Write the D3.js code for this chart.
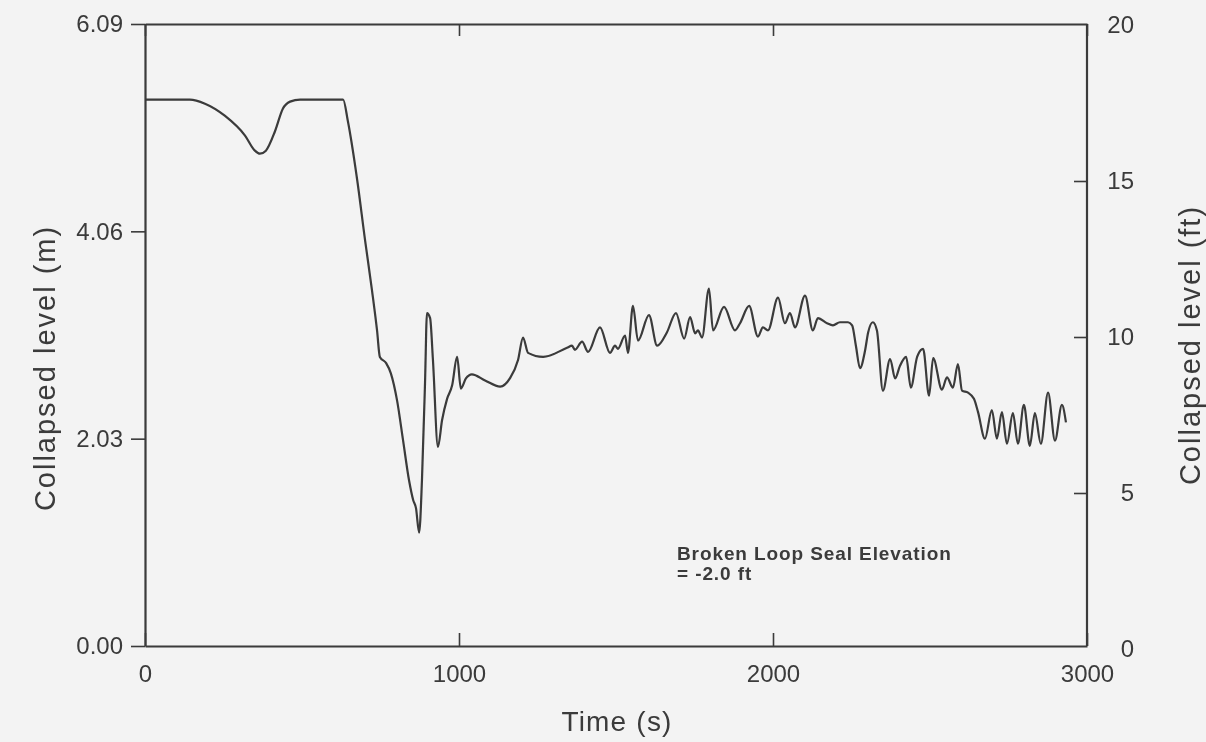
<!DOCTYPE html>
<html>
<head>
<meta charset="utf-8">
<script src="https://cdn.jsdelivr.net/npm/d3@7"></script>
<style>
  html, body { margin: 0; padding: 0; background: #f3f3f3; }
  svg { display: block; }
  text { font-family: "Liberation Sans", Arial, Helvetica, sans-serif; fill: #3a3a3a; }
</style>
</head>
<body>
<svg id="chart" width="1206" height="742"></svg>
<script>
// Time (s) and collapsed level (m) of the broken-loop seal
const timeS = [
  0, 143, 191, 255, 318, 350, 366, 385, 414, 439, 462, 494, 631,
  646, 675, 701, 723, 739, 748, 768, 783, 803, 822, 841, 854, 863, 873,
  882, 892, 898, 908, 917, 933, 946, 962, 978, 994, 1006, 1022, 1041, 1083,
  1131, 1162, 1188, 1204, 1220, 1268, 1344, 1360, 1369, 1392, 1411, 1449,
  1481, 1497, 1506, 1529, 1538, 1554, 1570, 1605, 1631, 1662, 1691, 1717,
  1736, 1752, 1761, 1774, 1796, 1809, 1844, 1879, 1895, 1924, 1952, 1968,
  1984, 2016, 2038, 2054, 2070, 2102, 2127, 2143, 2172, 2191, 2213, 2239,
  2252, 2264, 2277, 2293, 2303, 2318, 2331, 2350, 2373, 2389, 2404, 2424,
  2439, 2459, 2478, 2497, 2510, 2538, 2554, 2573, 2589, 2602, 2621, 2640,
  2653, 2675, 2697, 2713, 2729, 2745, 2764, 2780, 2799, 2818, 2834, 2853,
  2876, 2898, 2920, 2933
];
const levelM = [
  5.35, 5.35, 5.31, 5.19, 5.00, 4.85, 4.82, 4.85, 5.04, 5.26, 5.33, 5.35, 5.35,
  5.14, 4.58, 3.97, 3.48, 3.09, 2.83, 2.77, 2.67, 2.40, 2.01, 1.62, 1.43, 1.35, 1.11,
  1.62, 2.60, 3.26, 3.21, 2.80, 1.95, 2.21, 2.42, 2.55, 2.83, 2.52, 2.62, 2.66, 2.60,
  2.54, 2.62, 2.80, 3.02, 2.87, 2.83, 2.92, 2.94, 2.90, 2.98, 2.88, 3.12,
  2.87, 2.94, 2.91, 3.04, 2.87, 3.33, 2.99, 3.24, 2.94, 3.07, 3.26, 3.01,
  3.22, 3.06, 3.09, 3.02, 3.50, 3.09, 3.32, 3.09, 3.16, 3.33, 3.03, 3.12,
  3.09, 3.41, 3.16, 3.26, 3.12, 3.43, 3.09, 3.21, 3.16, 3.14, 3.17, 3.17,
  3.14, 2.94, 2.72, 2.89, 3.07, 3.17, 3.09, 2.50, 2.81, 2.62, 2.74, 2.83,
  2.53, 2.83, 2.91, 2.45, 2.82, 2.51, 2.63, 2.53, 2.76, 2.50, 2.48, 2.42,
  2.29, 2.03, 2.31, 2.03, 2.29, 1.98, 2.28, 1.98, 2.36, 1.96, 2.28, 1.98,
  2.48, 2.01, 2.36, 2.19
];

// Tick values for the three axes
const timeTicks = [0, 1000, 2000, 3000];
const meterTicks = [0, 2.03, 4.06, 6.09];
const feetTicks = [0, 5, 10, 15, 20];

// Annotation text
const noteLines = ["Broken Loop Seal Elevation", "= -2.0 ft"];

const svg = d3.select("#chart");
const plotL = 145, plotR = 1087, plotT = 24, plotB = 646;
const ink = "#3a3a3a";

const x = d3.scaleLinear().domain([0, 3000]).range([plotL, plotR]);
const yM = d3.scaleLinear().domain([0, 6.09]).range([plotB, plotT]);
const yFt = d3.scaleLinear().domain([0, 20]).range([plotB + 3, plotT + 1]);

const soft = svg.append("defs").append("filter").attr("id", "soft");
soft.append("feGaussianBlur").attr("stdDeviation", 0.55);

const g = svg.append("g").attr("filter", "url(#soft)");

function styleAxis(sel) {
  sel.selectAll("path.domain").attr("stroke", ink).attr("stroke-width", 2.2);
  sel.selectAll(".tick line").attr("stroke", ink).attr("stroke-width", 1.6);
  sel.selectAll(".tick text")
    .style("font-size", "24px")
    .style("fill", ink)
    .style("font-family", "'Liberation Sans', Arial, sans-serif");
}

// Left axis in metres, ticks pointing out
const axL = g.append("g").attr("transform", `translate(${plotL},0)`)
  .call(d3.axisLeft(yM).tickValues(meterTicks).tickFormat(d3.format(".2f"))
    .tickSizeInner(14).tickSizeOuter(0).tickPadding(8));
styleAxis(axL);

// Right axis in feet, ticks pointing in
const axR = g.append("g").attr("transform", `translate(${plotR},0)`)
  .call(d3.axisRight(yFt).tickValues(feetTicks).tickFormat(d3.format("d"))
    .tickSizeInner(-13).tickSizeOuter(0).tickPadding(47));
styleAxis(axR);
axR.selectAll(".tick text").attr("text-anchor", "end");
axR.selectAll(".tick").filter(d => d === 0 || d === 20).select("line").remove();
axR.select("path.domain").attr("d", `M0,${plotT}V${plotB}`);

// Bottom time axis, ticks pointing in
const axB = g.append("g").attr("transform", `translate(0,${plotB})`)
  .call(d3.axisBottom(x).tickValues(timeTicks).tickFormat(d3.format("d"))
    .tickSizeInner(-13).tickSizeOuter(0).tickPadding(28));
styleAxis(axB);
axB.selectAll(".tick text").attr("dy", "0.32em");

// Top frame with inward ticks
const axT = g.append("g").attr("transform", `translate(0,${plotT})`)
  .call(d3.axisTop(x).tickValues(timeTicks).tickFormat("")
    .tickSizeInner(-12).tickSizeOuter(0));
styleAxis(axT);

// Level history
const line = d3.line()
  .x((d, i) => x(timeS[i]))
  .y(d => yM(d))
  .curve(d3.curveMonotoneX);

g.append("path")
  .datum(levelM)
  .attr("d", line)
  .attr("fill", "none")
  .attr("stroke", ink)
  .attr("stroke-width", 2.2)
  .attr("stroke-linejoin", "round");

// Axis titles
g.append("text")
  .attr("x", (plotL + plotR) / 2 + 1)
  .attr("y", 731)
  .attr("text-anchor", "middle")
  .style("font-size", "28px")
  .style("letter-spacing", "1.2px")
  .text("Time (s)");

g.append("text")
  .attr("transform", "translate(55,368) rotate(-90)")
  .attr("text-anchor", "middle")
  .style("font-size", "29px")
  .style("letter-spacing", "2px")
  .text("Collapsed level (m)");

g.append("text")
  .attr("transform", "translate(1200,345) rotate(-90)")
  .attr("text-anchor", "middle")
  .style("font-size", "29px")
  .style("letter-spacing", "2px")
  .text("Collapsed level (ft)");

// Annotation
const note = g.append("text")
  .attr("x", 677)
  .attr("y", 560)
  .style("font-size", "19px")
  .style("font-weight", "bold")
  .style("letter-spacing", "0.9px");
note.selectAll("tspan").data(noteLines).join("tspan")
  .attr("x", 677)
  .attr("dy", (d, i) => i === 0 ? 0 : 20)
  .text(d => d);
</script>
</body>
</html>
